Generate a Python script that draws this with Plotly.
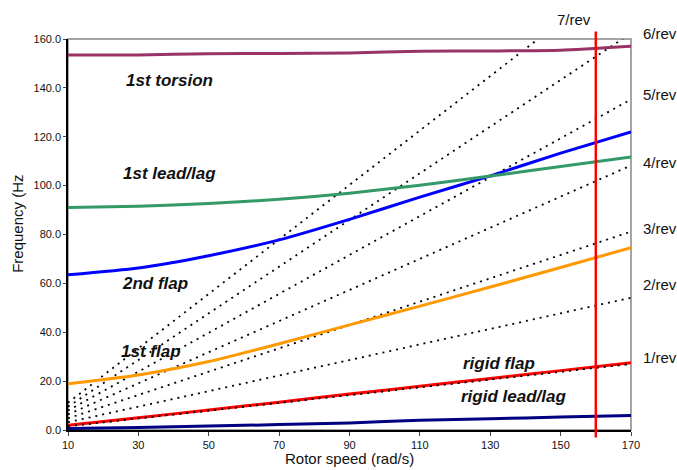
import plotly.graph_objects as go

# Rotor speed (rad/s)
speed = [10, 30, 50, 70, 90, 110, 130, 150, 170]

# Blade modes (Hz)
torsion_1st = [153.5, 153.5, 154.0, 154.1, 154.3, 155.0, 155.1, 155.4, 157.0]
leadlag_1st = [91.0, 91.6, 92.7, 94.4, 96.9, 100.2, 103.9, 107.8, 111.7]
flap_2nd = [63.5, 66.3, 71.3, 77.8, 86.2, 95.3, 104.0, 113.3, 122.0]
flap_1st = [18.9, 22.5, 28.0, 35.3, 43.0, 50.7, 58.5, 66.5, 74.6]
rigid_flap = [1.9, 5.0, 8.2, 11.4, 14.7, 17.9, 21.1, 24.3, 27.5]
rigid_leadlag = [0.6, 1.0, 1.6, 2.2, 2.9, 4.0, 4.6, 5.3, 5.9]

# Per-rev excitation lines (Hz)
rev_1 = [1.59, 4.77, 7.96, 11.14, 14.32, 17.51, 20.69, 23.87, 27.06]
rev_2 = [3.18, 9.55, 15.92, 22.28, 28.65, 35.01, 41.38, 47.75, 54.11]
rev_3 = [4.77, 14.32, 23.87, 33.42, 42.97, 52.52, 62.07, 71.62, 81.17]
rev_4 = [6.37, 19.10, 31.83, 44.56, 57.30, 70.03, 82.76, 95.49, 108.23]
rev_5 = [7.96, 23.87, 39.79, 55.70, 71.62, 87.54, 103.45, 119.37, 135.28]
rev_6 = [9.55, 28.65, 47.75, 66.85, 85.94, 105.04, 124.14, 143.24, 162.34]
rev_7 = [11.14, 33.42, 55.70, 77.99, 100.27, 122.55, 144.83, 167.11, 189.40]
rev_lines = [rev_1, rev_2, rev_3, rev_4, rev_5, rev_6, rev_7]
rev_labels = ["1/rev", "2/rev", "3/rev", "4/rev", "5/rev", "6/rev", "7/rev"]
# label anchor positions in data units (may lie outside the axis ranges)
rev_label_y = [29.7, 59.7, 82.3, 109.3, 137.2, 162.3, 168.1]
rev_label_x = [178.3, 178.3, 178.3, 178.3, 178.3, 178.3, 153.8]

operating_speed = 160

mode_labels = ["1st torsion", "1st lead/lag", "2nd flap", "1st flap", "rigid flap", "rigid lead/lag"]
mode_label_x = [38.8, 38.8, 34.8, 33.5, 132.5, 136.5]
mode_label_y = [143.0, 104.8, 60.1, 32.2, 27.3, 13.7]

X_RANGE = [10, 170]
Y_RANGE = [0, 160]

FONT = "Liberation Sans, Arial, sans-serif"
DOT = dict(color="black", width=1.8, dash="2px,5px")

fig = go.Figure()

for vals in rev_lines:
    fig.add_trace(go.Scatter(x=speed, y=vals, mode="lines", line=DOT,
                             showlegend=False, hoverinfo="skip"))

modes = [
    (rigid_leadlag, "#000080"),
    (rigid_flap, "#FF0000"),
    (flap_1st, "#FF9900"),
    (flap_2nd, "#0000FF"),
    (leadlag_1st, "#339966"),
    (torsion_1st, "#993366"),
]
for vals, col in modes:
    fig.add_trace(go.Scatter(x=speed, y=vals, mode="lines",
                             line=dict(color=col, width=3, shape="spline", smoothing=0.6),
                             showlegend=False))

# 1/rev dotted line drawn again over the rigid flap line
fig.add_trace(go.Scatter(x=speed, y=rev_1, mode="lines", line=DOT,
                         showlegend=False, hoverinfo="skip"))


def to_paper(v, rng):
    return (v - rng[0]) / (rng[1] - rng[0])


annotations = []
for t, x, y in zip(mode_labels, mode_label_x, mode_label_y):
    annotations.append(dict(x=x, y=y, xref="x", yref="y", text="<b><i>%s</i></b>" % t,
                            showarrow=False, font=dict(family=FONT, size=17, color="#111"),
                            xanchor="center", yanchor="middle"))
for t, x, y in zip(rev_labels, rev_label_x, rev_label_y):
    annotations.append(dict(x=to_paper(x, X_RANGE), y=to_paper(y, Y_RANGE),
                            xref="paper", yref="paper", text=t, showarrow=False,
                            font=dict(family=FONT, size=15, color="#111"),
                            xanchor="center", yanchor="middle"))
annotations.append(dict(x=0.5, y=-0.073, xref="paper", yref="paper", text="Rotor speed (rad/s)",
                        showarrow=False, font=dict(family=FONT, size=15, color="#111"),
                        xanchor="center", yanchor="middle"))
annotations.append(dict(x=-0.089, y=0.527, xref="paper", yref="paper", text="Frequency (Hz",
                        showarrow=False, textangle=-90, font=dict(family=FONT, size=15, color="#111"),
                        xanchor="center", yanchor="middle"))

fig.update_layout(
    width=677, height=470,
    margin=dict(l=68, r=46, t=39, b=40),
    paper_bgcolor="white", plot_bgcolor="white",
    font=dict(family=FONT, size=11, color="#111"),
    showlegend=False,
    annotations=annotations,
    shapes=[
        dict(type="rect", xref="paper", yref="paper", x0=0, y0=0, x1=1, y1=1,
             line=dict(color="#888888", width=1.5), layer="below"),
        dict(type="line", xref="x", yref="paper", x0=operating_speed, x1=operating_speed,
             y0=-0.019, y1=1.019, line=dict(color="#FF0000", width=2.5), layer="above"),
    ],
)
fig.update_xaxes(range=X_RANGE, tickvals=speed, ticks="outside", ticklen=4,
                 showline=True, linecolor="black", linewidth=1.5, showgrid=False,
                 zeroline=False, tickfont=dict(size=11))
fig.update_yaxes(range=Y_RANGE, tickvals=[0, 20, 40, 60, 80, 100, 120, 140, 160],
                 tickformat=".1f", ticks="outside", ticklen=3,
                 showline=True, linecolor="black", linewidth=1.5, showgrid=False,
                 zeroline=False, tickfont=dict(size=11))

# remove the default 8px page margin so the figure fills the window without scrollbars
fig.write_html("out.html",
               config={"displayModeBar": False},
               post_script="document.body.style.margin='0px';document.body.style.overflow='hidden';")
